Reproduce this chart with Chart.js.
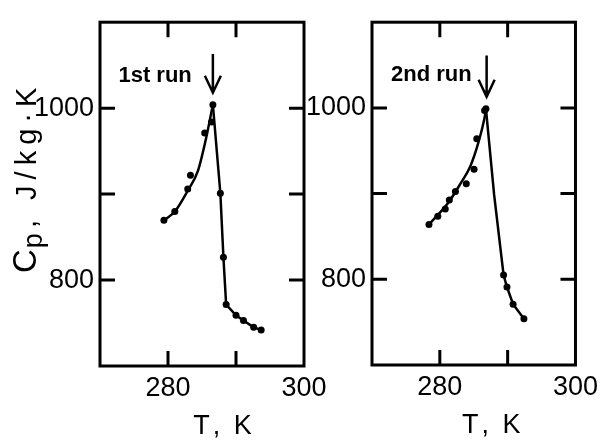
<!DOCTYPE html>
<html>
<head>
<meta charset="utf-8">
<script src="https://cdn.jsdelivr.net/npm/chart.js@4.4.1/dist/chart.umd.min.js"></script>
<style>
  html, body { margin: 0; padding: 0; background: #fff; }
  #wrap { position: relative; width: 604px; height: 440px; overflow: hidden; }
  .panel { position: absolute; top: 0; height: 440px; }
  #left { left: 0; width: 340px; }
  #right { left: 300px; width: 304px; }
</style>
</head>
<body>
<div id="wrap">
  <div class="panel" id="left"><canvas id="run1"></canvas></div>
  <div class="panel" id="right"><canvas id="run2"></canvas></div>
</div>
<script>
// axis ranges + which ticks get a label / a mark
const T_RANGE = [270, 300];
const CP_RANGE = [700, 1100];
const xLabelValues = [280, 300];
const yLabelValues = [800, 1000];
const xMarkValues = [280, 290];
const yMarkValues = [800, 900, 1000];

// 1st run - measured points
const run1T  = [279.4, 281.0, 282.9, 283.3, 285.4, 286.4, 286.6, 287.7, 288.15, 288.55, 290.0, 291.1, 292.6, 293.7];
const run1Cp = [869.5, 879.7, 906, 922, 971, 984, 1004, 901, 826.5, 771.5, 759, 753, 745, 742];
// 1st run - drawn curve (rising fit, falling polyline)
const run1RiseT  = [279.4, 281.0, 282.9, 284.4, 285.6, 286.6];
const run1RiseCp = [869.5, 879.7, 904, 927, 965, 1004];
const run1FallT  = [286.6, 287.7, 288.15, 288.55, 290.0, 291.1, 292.6, 293.7];
const run1FallCp = [1004, 901, 826.5, 771.5, 759, 753, 745, 742];

// 2nd run - measured points
const run2T  = [278.4, 279.7, 280.8, 281.4, 282.3, 283.9, 285.05, 285.45, 286.6, 286.8, 289.4, 289.9, 290.8, 292.4];
const run2Cp = [864, 873.5, 882, 892.5, 902.5, 911.5, 928.5, 964, 997, 999, 805, 791, 771, 754];
// 2nd run - drawn curve
const run2RiseT  = [278.4, 281.3, 283.0, 284.5, 285.7, 286.65, 286.8];
const run2RiseCp = [864, 890, 911, 932, 960, 991, 999];
const run2FallT  = [286.8, 288.0, 289.4, 289.9, 290.8, 292.4];
const run2FallCp = [999, 899, 805, 791, 771, 754];

const FONT = "'Liberation Sans', Arial, sans-serif";
const TICK = 15;

const pts = (xs, ys) => xs.map((x, i) => ({ x, y: ys[i] }));

// draw a string char by char with extra spacing, centred on cx
function spacedText(ctx, str, cx, cy, gap) {
  const widths = [...str].map(ch => ctx.measureText(ch).width);
  const total = widths.reduce((s, w) => s + w, 0) + gap * (widths.length - 1);
  let pos = cx - total / 2;
  ctx.textAlign = 'left';
  [...str].forEach((ch, i) => {
    ctx.fillText(ch, pos, cy);
    pos += widths[i] + gap;
  });
}

// frame, inward ticks, arrow + run label + x title, drawn through the chart scales
function overlayPlugin(note) {
  return {
    id: 'overlay',
    afterDraw(chart) {
      const { ctx, chartArea: a, scales: { x, y } } = chart;
      ctx.save();
      ctx.strokeStyle = '#000';
      ctx.fillStyle = '#000';
      ctx.lineWidth = 3;
      ctx.strokeRect(a.left, a.top, a.right - a.left, a.bottom - a.top);

      ctx.beginPath();
      xMarkValues.forEach(v => {
        const px = x.getPixelForValue(v);
        ctx.moveTo(px, a.bottom); ctx.lineTo(px, a.bottom - TICK);
        ctx.moveTo(px, a.top);    ctx.lineTo(px, a.top + TICK);
      });
      yMarkValues.forEach(v => {
        const py = y.getPixelForValue(v);
        ctx.moveTo(a.left, py);  ctx.lineTo(a.left + TICK, py);
        ctx.moveTo(a.right, py); ctx.lineTo(a.right - TICK, py);
      });
      ctx.stroke();

      // arrow pointing at the peak
      const ax = x.getPixelForValue(note.arrowT);
      const ay0 = y.getPixelForValue(note.arrowCp[0]);
      const ay1 = y.getPixelForValue(note.arrowCp[1]);
      ctx.lineWidth = 2.5;
      ctx.beginPath();
      ctx.moveTo(ax, ay0); ctx.lineTo(ax, ay1);
      ctx.moveTo(ax - 8, ay1 - 17); ctx.lineTo(ax, ay1); ctx.lineTo(ax + 8, ay1 - 17);
      ctx.stroke();

      ctx.font = `bold 22px ${FONT}`;
      ctx.textAlign = 'right';
      ctx.textBaseline = 'middle';
      ctx.fillText(note.label, x.getPixelForValue(note.labelT), y.getPixelForValue(note.labelCp));

      // x title
      ctx.font = `27px ${FONT}`;
      spacedText(ctx, 'T, K', x.getPixelForValue(note.titleT), a.bottom + 61, 3);

      if (note.yTitle) drawYTitle(ctx);
      ctx.restore();
    }
  };
}

// rotated "Cp, J/kg·K" with subscript p
function drawYTitle(ctx) {
  ctx.save();
  ctx.translate(36, 273);
  ctx.rotate(-Math.PI / 2);
  ctx.textAlign = 'left';
  ctx.textBaseline = 'alphabetic';
  ctx.font = `33px ${FONT}`;
  ctx.fillText('C', 0, 0);
  let pos = ctx.measureText('C').width + 1;
  ctx.font = `27px ${FONT}`;
  ctx.fillText('p', pos, 6);
  pos = 45;
  ctx.font = `29px ${FONT}`;
  for (const ch of ', J/kg·K') {
    ctx.fillText(ch, pos, 0);
    pos += ctx.measureText(ch).width + 6;
  }
  ctx.restore();
}

function makeChart(canvasId, cfg) {
  return new Chart(document.getElementById(canvasId), {
    type: 'scatter',
    data: {
      datasets: [
        {
          data: cfg.points,
          pointRadius: 3.5,
          pointBackgroundColor: '#000',
          pointBorderWidth: 0,
        },
        {
          data: cfg.rise,
          showLine: true,
          pointRadius: 0,
          borderColor: '#000',
          borderWidth: 2.5,
          cubicInterpolationMode: 'monotone',
        },
        {
          data: cfg.fall,
          showLine: true,
          pointRadius: 0,
          borderColor: '#000',
          borderWidth: 2.5,
          tension: 0,
        },
      ],
    },
    options: {
      responsive: true,
      maintainAspectRatio: false,
      animation: false,
      events: [],
      layout: { autoPadding: false, padding: cfg.padding },
      plugins: { legend: { display: false }, tooltip: { enabled: false } },
      scales: {
        x: {
          type: 'linear',
          min: T_RANGE[0], max: T_RANGE[1],
          grid: { display: false, drawTicks: false },
          border: { display: false },
          ticks: {
            stepSize: 10,
            padding: 6,
            color: '#000',
            font: { family: FONT, size: 27 },
            callback: v => xLabelValues.includes(v) ? String(v) : '',
          },
          afterFit: s => { s.height = cfg.xHeight; },
        },
        y: {
          type: 'linear',
          min: CP_RANGE[0], max: CP_RANGE[1],
          grid: { display: false, drawTicks: false },
          border: { display: false },
          ticks: {
            stepSize: 100,
            padding: 6,
            color: '#000',
            font: { family: FONT, size: 27 },
            callback: v => yLabelValues.includes(v) ? String(v) : '',
          },
          afterFit: s => { s.width = cfg.yWidth; },
        },
      },
    },
    plugins: [overlayPlugin(cfg.note)],
  });
}

makeChart('run1', {
  points: pts(run1T, run1Cp),
  rise: pts(run1RiseT, run1RiseCp),
  fall: pts(run1FallT, run1FallCp),
  padding: { left: 0, right: 36, top: 15, bottom: 0 },
  yWidth: 100,
  xHeight: 74,
  note: { label: '1st run', labelT: 283.5, labelCp: 1037, arrowT: 286.6, arrowCp: [1063, 1018], titleT: 288, yTitle: true },
});

makeChart('run2', {
  points: pts(run2T, run2Cp),
  rise: pts(run2RiseT, run2RiseCp),
  fall: pts(run2FallT, run2FallCp),
  padding: { left: 0, right: 26, top: 14, bottom: 0 },
  yWidth: 72,
  xHeight: 75,
  note: { label: '2nd run', labelT: 284.7, labelCp: 1039, arrowT: 286.9, arrowCp: [1061, 1013], titleT: 287.6, yTitle: false },
});
</script>
</body>
</html>
